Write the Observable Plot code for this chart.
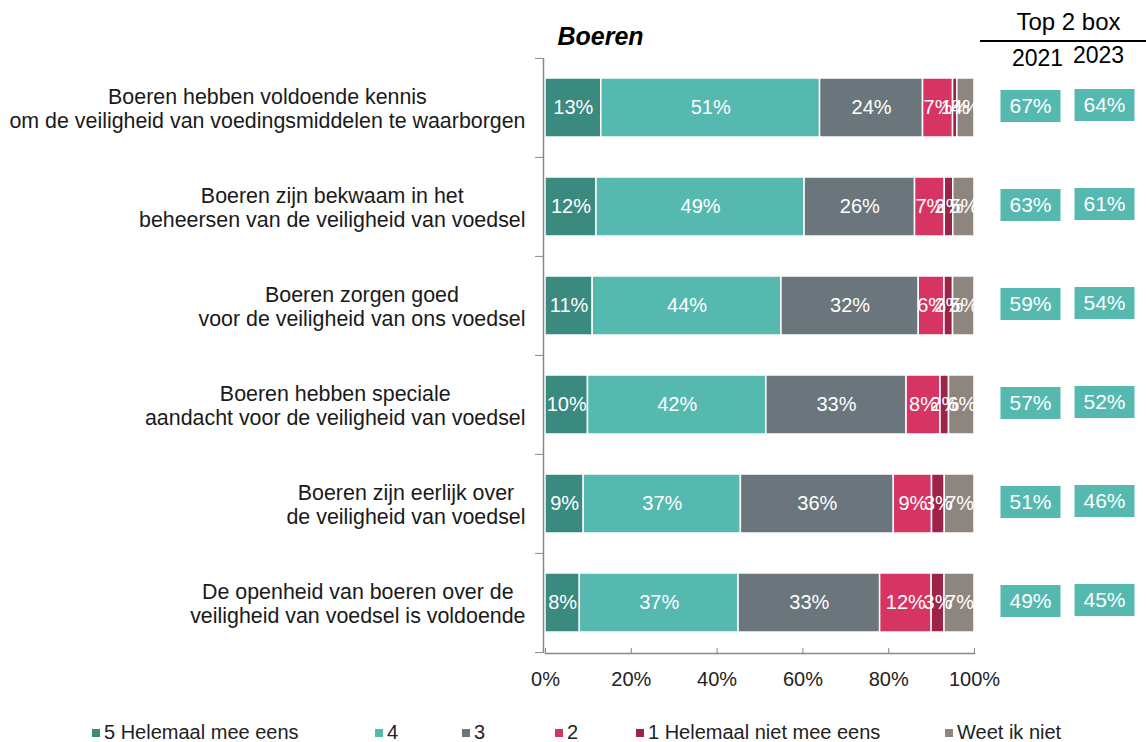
<!DOCTYPE html>
<html><head><meta charset="utf-8">
<script src="https://cdn.jsdelivr.net/npm/d3@7"></script>
<script src="https://cdn.jsdelivr.net/npm/@observablehq/plot@0.6"></script>
<style>
body{margin:0;background:#fff;font-family:"Liberation Sans",Arial,sans-serif;}
#wrap{position:relative;width:1146px;height:742px;overflow:hidden;}
#wrap svg{position:absolute;left:0;top:0;}
.hline{position:absolute;left:980px;top:40px;width:166px;height:2px;background:#000;}
.leg{position:absolute;top:720px;font-size:20px;color:#222;white-space:nowrap;line-height:24px;}
.leg i{display:inline-block;width:8px;height:8px;margin-right:4px;vertical-align:middle;position:relative;top:-1px;}
</style></head><body><div id="wrap"></div>
<script>
const statements = [
  "Boeren hebben voldoende kennis\nom de veiligheid van voedingsmiddelen te waarborgen",
  "Boeren zijn bekwaam in het\nbeheersen van de veiligheid van voedsel",
  "Boeren zorgen goed\nvoor de veiligheid van ons voedsel",
  "Boeren hebben speciale\naandacht voor de veiligheid van voedsel",
  "Boeren zijn eerlijk over\nde veiligheid van voedsel",
  "De openheid van boeren over de\nveiligheid van voedsel is voldoende"
];
const responses = ["5 Helemaal mee eens","4","3","2","1 Helemaal niet mee eens","Weet ik niet"];
const colors = ["#3a8a80","#55b9b0","#6a767c","#d63563","#9d2348","#8f857f"];
const v5  = [13,12,11,10,9,8];
const v4  = [51,49,44,42,37,37];
const v3  = [24,26,32,33,36,33];
const v2  = [7,7,6,8,9,12];
const v1  = [1,2,2,2,3,3];
const vDK = [4,5,5,6,7,7];
const top2021 = [67,63,59,57,51,49];
const top2023 = [64,61,54,52,46,45];
const xTicks = [0,0.2,0.4,0.6,0.8,1];
const title = "Boeren";
const topHeader = "Top 2 box";
const years = ["2021","2023"];

const series = [v5,v4,v3,v2,v1,vDK];
const rows = [];
statements.forEach((s,i)=>responses.forEach((r,j)=>rows.push({statement:s,response:r,value:series[j][i]})));
const topRows = statements.map((s,i)=>({statement:s,a:top2021[i],b:top2023[i]}));

const W=1146, H=712, mL=545, mR=172, mT=58, mB=H-653;
const step=(H-mT-mB)/statements.length;
const boxSym={draw(ctx){ctx.moveTo(-30,-16);ctx.lineTo(30,-16);ctx.lineTo(30,16);ctx.lineTo(-30,16);ctx.closePath();}};
const font='"Liberation Sans", Arial, sans-serif';

const plot = Plot.plot({
  width:W, height:H, marginLeft:mL, marginRight:mR, marginTop:mT, marginBottom:mB,
  style:{fontFamily:font, fontSize:"20px", color:"#222", background:"transparent", overflow:"visible"},
  x:{domain:[0,1], axis:null},
  y:{domain:statements, paddingInner:0.4, paddingOuter:0.2, axis:null},
  color:{domain:responses, range:colors},
  marks:[
    Plot.barX(rows, Plot.stackX({x:"value", y:"statement", fill:"response", z:"response", order:responses, offset:"normalize", stroke:"white", strokeWidth:1.5})),
    Plot.text(rows, Plot.stackX({x:"value", y:"statement", z:"response", text:d=>d.value+"%", order:responses, offset:"normalize", fill:"white", fontSize:20})),
    Plot.ruleX([0], {stroke:"#888", strokeWidth:1.5, dx:-2}),
    Plot.axisY({tickSize:0, tickPadding:20, fontSize:21.4, fill:"#1a1a1a", lineHeight:1.12, label:null}),
    Plot.axisY({tickSize:8, dy:-step/2, dx:-2, tickFormat:()=>"", stroke:"#888", label:null}),
    Plot.axisY({ticks:[statements[statements.length-1]], tickSize:8, dy:step/2, dx:-2, tickFormat:()=>"", stroke:"#888", label:null}),
    Plot.axisX({ticks:xTicks, tickSize:5, dy:-5, tickFormat:()=>"", stroke:"#888", label:null}),
    Plot.axisX({ticks:xTicks, tickSize:0, tickPadding:18, tickFormat:d=>Math.round(d*100)+"%", fontSize:20, fill:"#222", label:null}),
    Plot.frame({anchor:"bottom", stroke:"#888", strokeWidth:1.5}),
    Plot.dot(topRows, {y:"statement", frameAnchor:"right", dx:56, dy:-2, symbol:boxSym, fill:"#55b9b0", stroke:"none"}),
    Plot.dot(topRows, {y:"statement", frameAnchor:"right", dx:130, dy:-3, symbol:boxSym, fill:"#55b9b0", stroke:"none"}),
    Plot.text(topRows, {y:"statement", frameAnchor:"right", textAnchor:"middle", dx:56, dy:-2, text:d=>d.a+"%", fill:"white", fontSize:21}),
    Plot.text(topRows, {y:"statement", frameAnchor:"right", textAnchor:"middle", dx:130, dy:-3, text:d=>d.b+"%", fill:"white", fontSize:21}),
    Plot.text([title], {frameAnchor:"top-left", dx:12, dy:-22, text:d=>d, textAnchor:"start", lineAnchor:"middle", fontWeight:"bold", fontStyle:"italic", fontSize:25, fill:"#000"}),
    Plot.text([topHeader], {frameAnchor:"top-right", textAnchor:"middle", dx:94, dy:-36, text:d=>d, lineAnchor:"middle", fontSize:24, fill:"#000"}),
    Plot.text([years[0]], {frameAnchor:"top-right", textAnchor:"middle", dx:63, dy:0, text:d=>d, lineAnchor:"middle", fontSize:23, fill:"#000"}),
    Plot.text([years[1]], {frameAnchor:"top-right", textAnchor:"middle", dx:124, dy:-3, text:d=>d, lineAnchor:"middle", fontSize:23, fill:"#000"})
  ]
});
const wrap=document.getElementById("wrap");
wrap.appendChild(plot);
plot.querySelectorAll('g[aria-label="y-axis tick label"] text').forEach(t=>{
  const spans=[...t.querySelectorAll("tspan")];
  if(!spans.length) return;
  const w=Math.max(...spans.map(s=>s.getComputedTextLength()));
  t.setAttribute("text-anchor","middle");
  spans.forEach(s=>s.setAttribute("x",-w/2));
});
const hl=document.createElement("div");hl.className="hline";wrap.appendChild(hl);
const legLeft=[92,375,462,555,636,945];
responses.forEach((r,i)=>{
  const d=document.createElement("div");d.className="leg";d.style.left=legLeft[i]+"px";
  const sq=document.createElement("i");sq.style.background=colors[i];
  d.appendChild(sq);d.appendChild(document.createTextNode(r));wrap.appendChild(d);
});
</script></body></html>
